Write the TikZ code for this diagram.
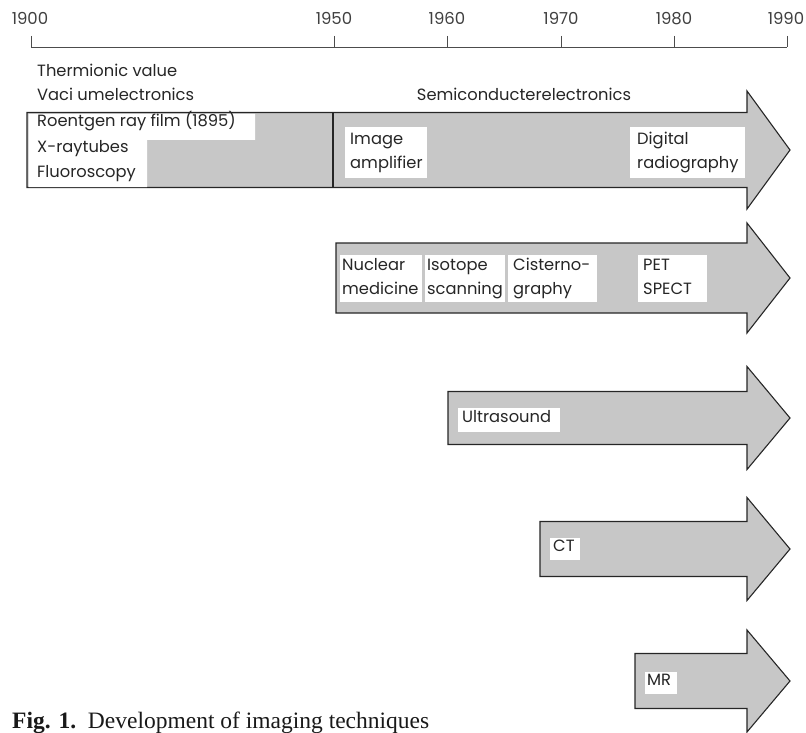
\documentclass[tikz,border=0pt]{standalone}
\usepackage{fontspec}
\setmainfont{Poppins}
\newfontfamily\capfont{Liberation Serif}
\tikzset{
  lbl/.style={anchor=mid west, inner sep=0pt, font=\fontsize{16.3}{19}\selectfont, text=black!85},
  yearlbl/.style={anchor=mid, inner sep=0pt, font=\fontsize{16.5}{18}\selectfont, text=black!75},
  whitebox/.style={fill=white, draw=none},
  bigarrow/.style={draw=black!85, line width=1.1pt, fill=black!22, line join=miter},
  axisline/.style={draw=black!70, line width=0.9pt}
}
% #1 left x, #2 centre y, #3 half body height, #4 half head height
\newcommand{\drawbigarrow}[4]{%
  \draw[bigarrow] (#1,#2-#3) -- (747,#2-#3) -- (747,#2-#4) -- (790,#2)
    -- (747,#2+#4) -- (747,#2+#3) -- (#1,#2+#3) -- cycle;}
\begin{document}
\begin{tikzpicture}[x=1pt,y=-1pt]
\useasboundingbox (0,0) rectangle (806,733);
% axis
\draw[axisline] (31,47) -- (787,47);
\foreach \xx/\yr in {31/1900,334/1950,447/1960,561/1970,674/1980,787/1990}{
  \draw[axisline] (\xx,36) -- (\xx,47);
}
\node[yearlbl] (y1900) at (30,22) {1900};
\node[yearlbl] (y1950) at (334,22) {1950};
\node[yearlbl] (y1960) at (447,22) {1960};
\node[yearlbl] (y1970) at (561,22) {1970};
\node[yearlbl] (y1980) at (674,22) {1980};
\node[yearlbl] (y1990) at (786,22) {1990};
% era labels
\node[lbl] (therm) at (37,74) {Thermionic value};
\node[lbl] (vacu) at (37,98) {Vaci umelectronics};
\node[lbl, anchor=mid] (semi) at (524,98) {Semiconducterelectronics};
% arrows
\drawbigarrow{27}{150}{37.5}{59}
\drawbigarrow{336}{278}{35}{55}
\drawbigarrow{448}{418}{26.5}{51.5}
\drawbigarrow{540}{549}{27.5}{51.5}
\drawbigarrow{635}{681}{27.5}{51}
% arrow 1 contents
\fill[white] (28.5,114) -- (255,114) -- (255,140) -- (147,140) -- (147,187) -- (28.5,187) -- cycle;
\draw[black!85, line width=1.1pt] (333,113) -- (333,188);
\node[lbl] (roent) at (37,124) {Roentgen ray film (1895)};
\node[lbl] (xray) at (37,150) {X-raytubes};
\node[lbl] (fluoro) at (37,175) {Fluoroscopy};
\fill[whitebox] (345,127) rectangle (427,178);
\node[lbl] (img1) at (350,142) {Image};
\node[lbl] (img2) at (350,166) {amplifier};
\fill[whitebox] (630,127) rectangle (745,178);
\node[lbl] (dig1) at (637,142) {Digital};
\node[lbl] (dig2) at (637,166) {radiography};
% arrow 2 contents
\fill[whitebox] (340,255) rectangle (422,302);
\fill[whitebox] (425,255) rectangle (505,302);
\fill[whitebox] (508,255) rectangle (597,302);
\fill[whitebox] (638,255) rectangle (707,302);
\node[lbl] (nuc1) at (342,268) {Nuclear};
\node[lbl] (nuc2) at (342,292) {medicine};
\node[lbl] (iso1) at (427,268) {Isotope};
\node[lbl] (iso2) at (427,292) {scanning};
\node[lbl] (cis1) at (513,268) {Cisterno-};
\node[lbl] (cis2) at (513,292) {graphy};
\node[lbl] (pet1) at (643,268) {PET};
\node[lbl] (pet2) at (643,292) {SPECT};
% other arrows
\fill[whitebox] (458,408) rectangle (560,432);
\node[lbl] (us) at (462,420) {Ultrasound};
\fill[whitebox] (550,538) rectangle (580,560);
\node[lbl] (ct) at (553,549) {CT};
\fill[whitebox] (645,672) rectangle (677,694);
\node[lbl] (mr) at (647,683) {MR};
% caption
\node[anchor=base west, inner sep=0pt, font=\capfont\fontsize{23.5}{26}\selectfont, text=black!90] (cap) at (12,728.5) {\textbf{Fig. 1.}\ \ Development of imaging techniques};
\end{tikzpicture}
\end{document}
